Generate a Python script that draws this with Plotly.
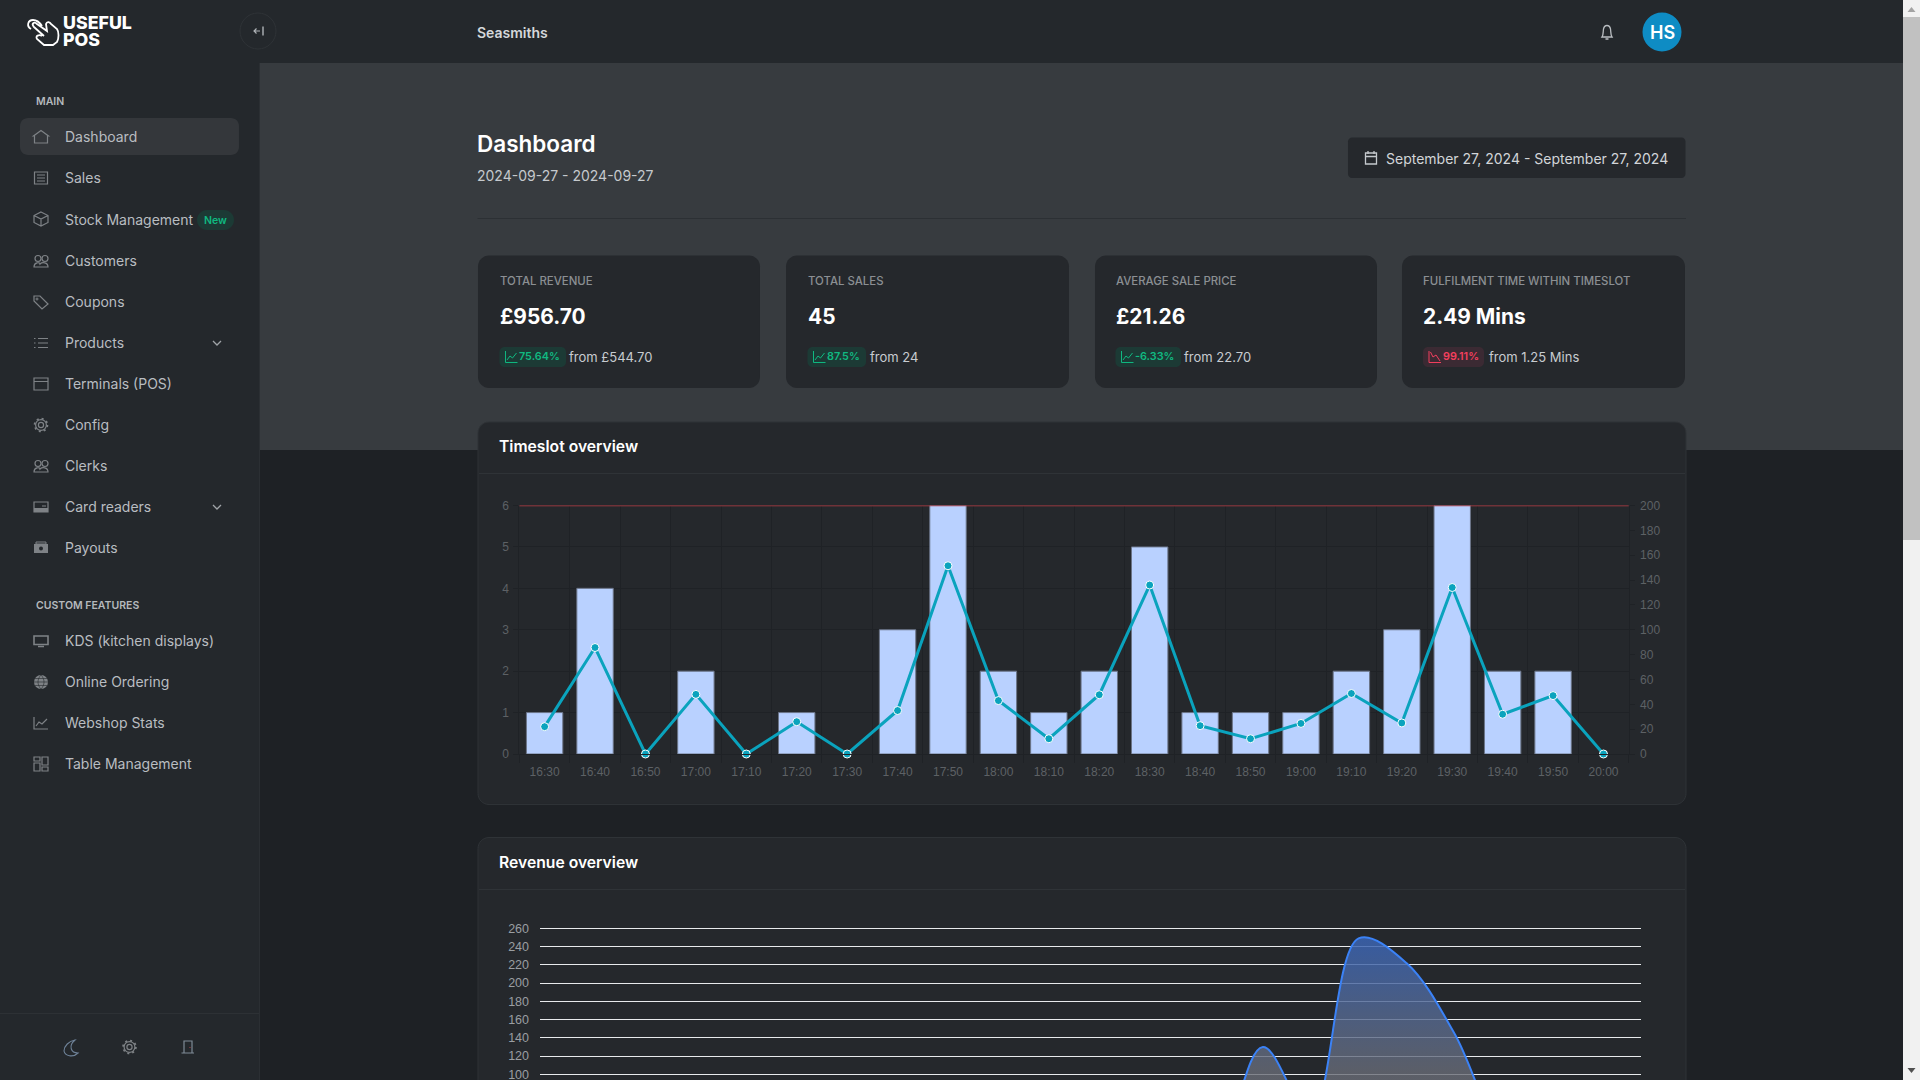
import re
import plotly.graph_objects as go

# ---------- chart data ----------
slots = ["16:30","16:40","16:50","17:00","17:10","17:20","17:30","17:40","17:50","18:00","18:10",
         "18:20","18:30","18:40","18:50","19:00","19:10","19:20","19:30","19:40","19:50","20:00"]
sales_counts = [1,4,0,2,0,1,0,3,6,2,1,2,5,1,1,1,2,3,6,2,2,0]
slot_revenue = [22,85.7,0,48,0,26,0,35,151.5,43,12.3,47.7,136,22.8,12.3,24.6,48.7,25,134,32,47,0]
hours = [f"{h:02d}:00" for h in range(24)]
hour_revenue = [0,0,0,0,0,0,0,0,0,0,0,0,0,0,15,130,55,249,222,145,35,0,0,0]
limit_value = [6]
left_ticks = [0,1,2,3,4,5,6]
right_ticks = [0,20,40,60,80,100,120,140,160,180,200]
rev_ticks = [100,120,140,160,180,200,220,240,260]

menu_main = ["Dashboard","Sales","Stock Management","Customers","Coupons","Products",
             "Terminals (POS)","Config","Clerks","Card readers","Payouts"]
menu_custom = ["KDS (kitchen displays)","Online Ordering","Webshop Stats","Table Management"]
card_labels = ["TOTAL REVENUE","TOTAL SALES","AVERAGE SALE PRICE","FULFILMENT TIME WITHIN TIMESLOT"]
card_values = ["£956.70","45","£21.26","2.49 Mins"]
card_deltas = ["75.64%","87.5%","-6.33%","99.11%"]
card_from = ["from £544.70","from 24","from 22.70","from 1.25 Mins"]

# ---------- page geometry / styling ----------
W, H = 1920, 1080
SIDE = "#24282c"; BANNER = "#373b3f"; BODY = "#1e2125"; CARD = "#25282c"; LINE = "#2f3337"
ICON = "#7e8286"; TXT = "#b9bdc1"; GREEN = "#10b981"; RED = "#f43f5e"
FONT = "Inter"
CHART_FONT = "Liberation Sans"

def X(p): return p / W
def Y(p): return 1 - p / H

shapes, annots = [], []

def conv(d, dx=0, dy=0, s=1.0):
    toks = re.findall(r"[A-Za-z]|-?\d+\.?\d*", d)
    out, i = [], 0
    for t in toks:
        if t.isalpha():
            out.append(t); i = 0
        else:
            v = float(t) * s
            out.append(f"{X(v+dx):.6f}" if i % 2 == 0 else f"{Y(v+dy):.6f}")
            i += 1
    res, buf = "", []
    for o in out:
        if o[0].isalpha():
            res += o
        else:
            buf.append(o)
            if len(buf) == 2:
                res += buf[0] + "," + buf[1] + " "; buf = []
    return res

def path(d, dx=0, dy=0, s=1.0, fill=None, line=None, w=1.0, layer="below"):
    shapes.append(dict(type="path", xref="paper", yref="paper", path=conv(d, dx, dy, s), layer=layer,
                       fillcolor=fill or "rgba(0,0,0,0)",
                       line=dict(color=line or "rgba(0,0,0,0)", width=w if line else 0)))

def rrect(x0, y0, x1, y1, r, fill=None, line=None, w=1.0):
    k = r * 0.45
    d = (f"M{x0+r} {y0} L{x1-r} {y0} C{x1-k} {y0} {x1} {y0+k} {x1} {y0+r} L{x1} {y1-r} "
         f"C{x1} {y1-k} {x1-k} {y1} {x1-r} {y1} L{x0+r} {y1} C{x0+k} {y1} {x0} {y1-k} {x0} {y1-r} "
         f"L{x0} {y0+r} C{x0} {y0+k} {x0+k} {y0} {x0+r} {y0} Z")
    path(d, fill=fill, line=line, w=w)

def rect(x0, y0, x1, y1, fill):
    shapes.append(dict(type="rect", xref="paper", yref="paper", x0=X(x0), x1=X(x1), y0=Y(y0), y1=Y(y1),
                       fillcolor=fill, line=dict(width=0), layer="below"))

def circ(cx, cy, r, fill=None, line=None, w=1.0, dash="solid"):
    shapes.append(dict(type="circle", xref="paper", yref="paper", x0=X(cx-r), x1=X(cx+r), y0=Y(cy-r), y1=Y(cy+r),
                       fillcolor=fill or "rgba(0,0,0,0)", layer="below",
                       line=dict(color=line or "rgba(0,0,0,0)", width=w if line else 0, dash=dash)))

def text(x, y, s, size=14, color=TXT, weight=400, anchor="left", family=FONT):
    if anchor == "left":
        x -= 1.2
    annots.append(dict(x=X(x), y=Y(y), xref="paper", yref="paper", text=s, showarrow=False, xanchor=anchor,
                       yanchor="middle", borderpad=0, font=dict(family=family, size=size, color=color, weight=weight)))

# ---------- page backgrounds ----------
rect(0, 0, W, H, BODY)
rect(260, 63, 1903, 450, BANNER)
rect(0, 0, 260, H, SIDE)
rect(260, 0, 1903, 63, SIDE)
rect(0, 1013, 260, 1014, "#2d3135")
rect(259, 63, 260, H, "#2b2f33")
# scrollbar
rect(1903, 0, 1920, H, "#f1f1f1")
rect(1903, 17, 1920, 540, "#c1c1c1")
path("M1907.5 12 L1911.5 7 L1915.5 12 Z", fill="#a3a3a3")
path("M1907.5 1068 L1911.5 1073 L1915.5 1068 Z", fill="#505050")

# ---------- top bar ----------
circ(258, 31, 18, fill=SIDE, line="#2f3337")
path("M254 31 L260 31 M256.5 28.5 L254 31 L256.5 33.5", line="#b0b4b8", w=1.2)
path("M263 26.5 L263 35.5", line="#b0b4b8", w=1.4)
# logo hand
path("M44 36 L34 27 C31 24 34 21 37 24 L47 31 L46 24 C47 21 50 22 51 24 L57 29 C59 32 59 38 57 42 L53 45 L44 45 L37 39 C35 36 39 34 42 36 M31 29 C26 26 28 20 33 20 C37 20 40 23 42 26",
     line="#ffffff", w=1.8)
text(63.5, 23, "USEFUL", 17.8, "#ffffff", 800)
text(63.5, 40, "POS", 17.8, "#ffffff", 800)
text(477.5, 32, "Seasmiths", 14, "#d5d8db", 600)
path("M1602 37 C1603.5 35 1603 32 1603.5 29 C1604 26.5 1605.5 25.5 1607 25.5 C1608.5 25.5 1610 26.5 1610.5 29 C1611 32 1610.5 35 1612 37 Z M1605.5 39 L1608.5 39",
     line="#b9bdc1", w=1.3)
circ(1662, 32, 19.5, fill="#0e8cc4")
text(1662, 32, "HS", 18, "#ffffff", 600, "center")

# ---------- sidebar ----------
rrect(20, 118, 239, 155, 8, fill="#34373b")
text(36, 101, "MAIN", 10.5, "#b5b9bd", 600)
text(36, 605, "CUSTOM FEATURES", 10.5, "#b5b9bd", 600)
main_y = [136.5, 178, 219.5, 260.5, 301.5, 342.5, 383.5, 424.5, 465.5, 506.5, 547.5]
custom_y = [640.5, 681.5, 722.5, 763.5]
for s, y in zip(menu_main, main_y):
    text(65, y, s, 14, TXT)
for s, y in zip(menu_custom, custom_y):
    text(65, y, s, 14, TXT)
rrect(197, 210, 234, 230, 10, fill="#1c3a35")
text(215.5, 220, "New", 10.5, GREEN, 600, "center")
for y in (343, 507):
    path(f"M213 {y-2} L217 {y+2} L221 {y-2}", line="#a0a4a8", w=1.3)

def ic(d, y, fill=None, x=41):
    path(d, x, y, line=ICON, w=1.2, fill=fill)

def people(y):
    circ(38, y-2.5, 3, line=ICON, w=1.2); circ(45, y-2.5, 3, line=ICON, w=1.2)
    ic("M-7 6 C-7 1 -1 1 -1 3 C1 1 7 1 7 6 Z", y)

def gear(cx, cy):
    circ(cx, cy, 2.6, line=ICON, w=1.2)
    circ(cx, cy, 5.4, line=ICON, w=1.2)
    circ(cx, cy, 6.4, line=ICON, w=1.8, dash="2px,3px")

ic("M-6.5 6 L-6.5 -1 L-7.5 -1 L0 -6.5 L7.5 -1 L6.5 -1 L6.5 6 Z", 137)                    # home
ic("M-6.5 -6 L6.5 -6 L6.5 6 L-6.5 6 Z M-4 -3 L4 -3 M-4 0 L4 0 M-4 3 L4 3", 178)           # sales
ic("M0 -7 L7 -3.5 L7 3.5 L0 7 L-7 3.5 L-7 -3.5 Z M-7 -3.5 L0 0 L7 -3.5 M0 0 L0 7", 219)   # stock
people(261)                                                                                # customers
ic("M-7 -6 L-1 -6 L7 2 L1 7 L-7 -1 Z", 302); circ(37, 299, 1, line=ICON)                   # coupons
ic("M-3 -4.5 L7 -4.5 M-3 0 L7 0 M-3 4.5 L7 4.5 M-7 -4.5 L-5.5 -4.5 M-7 0 L-5.5 0 M-7 4.5 L-5.5 4.5", 343)  # products
ic("M-7 -6 L7 -6 L7 6 L-7 6 Z M-7 -2.5 L7 -2.5", 384)                                     # terminals
gear(41, 425)                                                                              # config
people(466)                                                                                # clerks
ic("M-7 -5 L7 -5 L7 5 L-7 5 Z M1 -1 L5 -1", 507)                                           # card readers
path("M-7 1 L7 1 L7 5 L-7 5 Z", 41, 507, fill=ICON)
path("M-7 -4 L7 -4 L7 5 L-7 5 Z", 41, 548, fill=ICON)                                      # payouts
path("M-5 -6 L5 -6 L5 -4 L-5 -4 Z", 41, 548, line=ICON, w=1)
circ(41, 548.5, 2, fill=SIDE)
path("M-7 -5 L7 -5 L7 3.5 L-7 3.5 Z", 41, 641, line=ICON, w=1.6)                           # KDS
path("M-3 5.5 L3 5.5", 41, 641, line=ICON, w=1.5)
circ(41, 682, 7, fill=ICON)                                                                # globe
path("M-7 0 L7 0 M0 -7 C-4 -3 -4 3 0 7 C4 3 4 -3 0 -7 M-6 -3.5 L6 -3.5 M-6 3.5 L6 3.5", 41, 682, line=SIDE, w=0.6)
ic("M-7 -6 L-7 6 L7 6 M-5 3 L-2 -1 L1 1 L6 -4", 723)                                       # webshop
ic("M-7 -7 L-1 -7 L-1 -3 L-7 -3 Z M1 -7 L7 -7 L7 1 L1 1 Z M-7 -1 L-1 -1 L-1 7 L-7 7 Z M1 3 L7 3 L7 7 L1 7 Z", 764)  # table
# bottom icons
path("M75 1040 C69 1041 64 1046 64 1051 C65 1056 73 1058 78 1053 C71 1053 68 1046 75 1040 Z", line="#6f8399", w=1.1)
gear(129.5, 1047)
path("M184 1053 L184 1041 L192 1041 L192 1053 M181.5 1053 L194 1053", line="#7e8a96", w=1.2)
circ(190, 1047.5, 0.6, fill="#c04850")

# ---------- heading ----------
text(477.5, 144, "Dashboard", 22.5, "#ffffff", 600)
text(477.5, 175.7, "2024-09-27 - 2024-09-27", 14, "#c5c9cd")
rrect(1348, 137.5, 1685.5, 178, 4, fill=CARD)
path("M1365.5 153 L1376.5 153 L1376.5 164 L1365.5 164 Z M1365.5 156.5 L1376.5 156.5 M1368 151 L1368 154 M1374 151 L1374 154",
     line="#c5c9cd", w=1.3)
text(1386.5, 158.5, "September 27, 2024 - September 27, 2024", 14, "#d2d5d8")
rect(477.5, 218, 1686, 219, "#2c3034")

# ---------- KPI cards ----------
card_x = [(478, 760), (786, 1069), (1095, 1377), (1402, 1685)]
text_x = [500, 808, 1116, 1423.5]
badge_r = [566, 866, 1181, 1484]
delta_x = [519.5, 827.5, 1135.5, 1443.6]
from_x = [569.6, 870, 1184, 1489]
for i in range(4):
    rrect(card_x[i][0], 255.5, card_x[i][1], 388, 11, fill=CARD)
    text(text_x[i], 281, card_labels[i], 11.4, "#8b8f93", 500)
    text(text_x[i], 316.5, card_values[i], 20.9, "#ffffff", 700)
    neg = i == 3
    col = RED if neg else GREEN
    bx = text_x[i] - 0.5
    rrect(bx, 347, badge_r[i], 367, 5, fill="#3b2a33" if neg else "#1c3a35")
    path(f"M{bx+6} 351 L{bx+6} 362.5 L{bx+18} 362.5", line=col, w=1)
    if neg:
        path(f"M{bx+7.5} 352 L{bx+10} 357 L{bx+13} 355 L{bx+17} 361", line=col, w=1)
    else:
        path(f"M{bx+7.5} 360 L{bx+10.5} 356 L{bx+13} 358 L{bx+17} 353", line=col, w=1)
    text(delta_x[i], 357, card_deltas[i], 10.8, col, 600)
    text(from_x[i], 356.5, card_from[i], 13, "#c8ccd0")

# ---------- chart cards ----------
rrect(478, 422, 1686, 804.5, 11, fill=CARD, line=LINE)
rect(479, 473, 1685, 474, LINE)
text(499.6, 446, "Timeslot overview", 15.7, "#ffffff", 600)
rrect(478, 837.5, 1686, 1200, 11, fill=CARD, line=LINE)
rect(479, 889, 1685, 890, LINE)
text(499.6, 862, "Revenue overview", 15.7, "#ffffff", 600)

# ---------- figure ----------
fig = go.Figure()
fig.add_trace(go.Bar(x=slots, y=sales_counts, xaxis="x", yaxis="y",
                     marker=dict(color="#b9d1ff", line=dict(color="#6b7487", width=[1 if v else 0 for v in sales_counts])),
                     hoverinfo="skip"))
fig.add_trace(go.Scatter(x=slots, y=slot_revenue, xaxis="x", yaxis="y2", mode="lines+markers",
                         line=dict(color="#0aa3bd", width=3), cliponaxis=False,
                         marker=dict(color="#0aa3bd", size=8, line=dict(color="#ffffff", width=1)), hoverinfo="skip"))
fig.add_trace(go.Scatter(x=hours, y=hour_revenue, xaxis="x2", yaxis="y3", mode="lines",
                         line=dict(color="#3b82f6", width=2, shape="spline", smoothing=1.0), fill="tozeroy",
                         fillgradient=dict(type="vertical", start=260, stop=100,
                                           colorscale=[[0, "rgba(55,100,185,0.85)"], [1, "rgba(105,108,118,0.8)"]]),
                         hoverinfo="skip"))

shapes.append(dict(type="line", xref="x domain", yref="y", x0=0, x1=1, y0=limit_value[0], y1=limit_value[0],
                   line=dict(color="#bb3c44", width=1.5), layer="above"))

DIM = "#5d6165"
GRID = "#1f2226"
axis_font = dict(family=CHART_FONT, size=12, color=DIM)
fig.update_layout(
    width=W, height=H, autosize=False, margin=dict(l=0, r=0, t=0, b=0, pad=0, autoexpand=False),
    paper_bgcolor=BODY, plot_bgcolor="rgba(0,0,0,0)", showlegend=False, bargap=0.278,
    shapes=shapes, annotations=annots, hovermode=False,
    xaxis=dict(domain=[X(519.4), X(1628.7)], type="category", categoryorder="array", categoryarray=slots,
               range=[-0.5, 21.5], tickson="boundaries", ticks="outside", ticklen=8, tickcolor=GRID, tickfont=axis_font,
               ticklabelstandoff=7, showgrid=True, gridcolor=GRID, gridwidth=1, showline=True, linecolor=GRID,
               zeroline=False, anchor="y", tickangle=0),
    yaxis=dict(domain=[Y(754), Y(505.5)], range=[0, 6], tickvals=left_ticks, ticks="outside", ticklen=5,
               ticklabelstandoff=2, tickcolor=GRID, tickfont=axis_font, showgrid=True, gridcolor=GRID, zeroline=False,
               showline=True, linecolor=GRID, anchor="x"),
    yaxis2=dict(overlaying="y", side="right", anchor="x", range=[0, 200], tickvals=right_ticks, ticks="outside",
                ticklen=5, ticklabelstandoff=3, tickcolor=GRID, tickfont=axis_font, showgrid=False, zeroline=False,
                showline=True, linecolor=GRID),
    xaxis2=dict(domain=[X(540), X(1641)], type="category", categoryorder="array", categoryarray=hours,
                range=[-0.1, 22.9], visible=False, anchor="y3"),
    yaxis3=dict(domain=[0, Y(926.5)], range=[93.75, 262], tickvals=rev_ticks, anchor="x2", ticklabelstandoff=10,
                ticklabeloverflow="allow",
                tickfont=dict(family=CHART_FONT, size=12.5, color="#9a9ea2"), showgrid=True, gridcolor="#e8eaec",
                gridwidth=1.4, zeroline=False, showline=False, ticks=""),
)

fig.write_html("out.html", config=dict(displayModeBar=False, responsive=False),
               post_script="document.body.style.margin='0';document.body.style.overflow='hidden';document.body.style.background='#1e2125';")
